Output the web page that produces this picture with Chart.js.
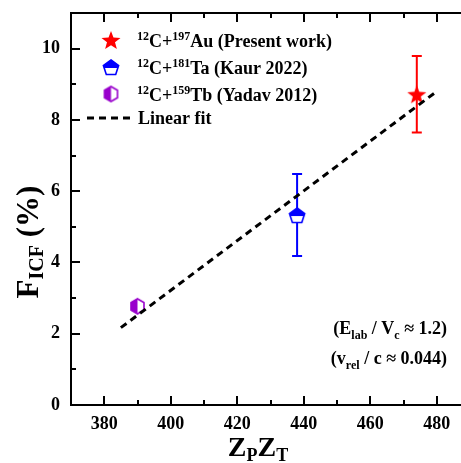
<!DOCTYPE html>
<html>
<head>
<meta charset="utf-8">
<script src="https://cdn.jsdelivr.net/npm/chart.js@4/dist/chart.umd.min.js"></script>
<style>
  html, body { margin: 0; padding: 0; background: #fff; overflow: hidden; }
  #wrap { width: 461px; height: 463px; overflow: hidden; position: relative; }
  #chart { position: absolute; left: 0; top: 0; }
</style>
</head>
<body>
<div id="wrap"><canvas id="chart" width="480" height="463"></canvas></div>
<script>
  'use strict';

  // ---- data ----
  const auX = [474], auY = [8.72], auErr = [1.07];
  const taX = [438], taY = [5.33], taErr = [1.15];
  const tbX = [390], tbY = [2.77], tbErr = [0.08];
  const fitX = [385, 480];
  const fitY = [2.17, 8.80];

  const xTicks = [380, 400, 420, 440, 460, 480];
  const xMinor = [390, 410, 430, 450, 470];
  const yTicks = [0, 2, 4, 6, 8, 10];
  const yMinor = [1, 3, 5, 7, 9];

  const SERIF = '"Liberation Serif", "Times New Roman", serif';
  const RED = '#ff0000', BLUE = '#0000ff', PURPLE = '#9900cc';

  // ---- marker images ----
  function makeCanvas(w, h) {
    const c = document.createElement('canvas');
    c.width = w; c.height = h;
    return c;
  }

  function starMarker(r, color) {
    const s = Math.ceil(r * 2 + 4), c = makeCanvas(s, s), g = c.getContext('2d');
    const cx = s / 2, cy = s / 2 + 1;
    g.beginPath();
    for (let i = 0; i < 10; i++) {
      const rad = i % 2 === 0 ? r : r * 0.42;
      const a = -Math.PI / 2 + i * Math.PI / 5;
      const px = cx + rad * Math.cos(a), py = cy + rad * Math.sin(a);
      i === 0 ? g.moveTo(px, py) : g.lineTo(px, py);
    }
    g.closePath();
    g.fillStyle = color;
    g.fill();
    return c;
  }

  function polyPath(g, cx, cy, r, n, rot) {
    g.beginPath();
    for (let i = 0; i < n; i++) {
      const a = rot + i * 2 * Math.PI / n;
      const px = cx + r * Math.cos(a), py = cy + r * Math.sin(a);
      i === 0 ? g.moveTo(px, py) : g.lineTo(px, py);
    }
    g.closePath();
  }

  // pentagon, top half filled
  function pentMarker(r, color) {
    const s = Math.ceil(r * 2 + 4), c = makeCanvas(s, s), g = c.getContext('2d');
    const cx = s / 2, cy = s / 2 + 1;
    polyPath(g, cx, cy, r, 5, -Math.PI / 2);
    g.fillStyle = '#fff';
    g.fill();
    g.save();
    g.clip();
    g.fillStyle = color;
    g.fillRect(0, 0, s, cy);
    g.restore();
    polyPath(g, cx, cy, r, 5, -Math.PI / 2);
    g.lineWidth = 1.6;
    g.strokeStyle = color;
    g.stroke();
    return c;
  }

  // hexagon, left half filled
  function hexMarker(r, color) {
    const s = Math.ceil(r * 2 + 4), c = makeCanvas(s, s), g = c.getContext('2d');
    const cx = s / 2, cy = s / 2;
    polyPath(g, cx, cy, r, 6, -Math.PI / 2);
    g.fillStyle = '#fff';
    g.fill();
    g.save();
    g.clip();
    g.fillStyle = color;
    g.fillRect(0, 0, cx, s);
    g.restore();
    polyPath(g, cx, cy, r, 6, -Math.PI / 2);
    g.lineWidth = 1.6;
    g.strokeStyle = color;
    g.stroke();
    return c;
  }

  const starImg = starMarker(10, RED);
  const pentImg = pentMarker(8, BLUE);
  const hexImg = hexMarker(7.5, PURPLE);

  // ---- rich text helper (super/subscripts) ----
  function richWidth(ctx, parts) {
    let w = 0;
    for (const p of parts) {
      ctx.font = 'bold ' + p.size + 'px ' + SERIF;
      w += ctx.measureText(p.t).width;
    }
    return w;
  }

  function drawRich(ctx, parts, x, y, align) {
    let cx = align === 'right' ? x - richWidth(ctx, parts) :
             align === 'center' ? x - richWidth(ctx, parts) / 2 : x;
    ctx.textBaseline = 'alphabetic';
    ctx.textAlign = 'left';
    ctx.fillStyle = '#000';
    for (const p of parts) {
      ctx.font = 'bold ' + p.size + 'px ' + SERIF;
      ctx.fillText(p.t, cx, y + (p.dy || 0));
      cx += ctx.measureText(p.t).width;
    }
  }

  const sup = t => ({ t, size: 12, dy: -7 });
  const reg = t => ({ t, size: 18 });

  const legendRows = [
    { img: starImg, parts: [sup('12'), reg('C+'), sup('197'), reg('Au (Present work)')] },
    { img: pentImg, parts: [sup('12'), reg('C+'), sup('181'), reg('Ta (Kaur 2022)')] },
    { img: hexImg, parts: [sup('12'), reg('C+'), sup('159'), reg('Tb (Yadav 2012)')] },
  ];

  const errorSets = [
    { x: auX, y: auY, e: auErr, color: RED },
    { x: taX, y: taY, e: taErr, color: BLUE },
    { x: tbX, y: tbY, e: tbErr, color: PURPLE },
  ];

  // drop the automatic label padding so the plot box sits where we want it
  const noPad = s => {
    s.paddingTop = 0; s.paddingBottom = 0; s.paddingLeft = 0; s.paddingRight = 0;
  };

  const decorPlugin = {
    id: 'decor',
    beforeDatasetsDraw(chart) {
      const ctx = chart.ctx, xs = chart.scales.x, ys = chart.scales.y;
      ctx.save();
      for (const s of errorSets) {
        ctx.strokeStyle = s.color;
        ctx.lineWidth = 2;
        s.x.forEach((xv, i) => {
          const px = xs.getPixelForValue(xv);
          const top = ys.getPixelForValue(s.y[i] + s.e[i]);
          const bot = ys.getPixelForValue(s.y[i] - s.e[i]);
          ctx.beginPath();
          ctx.moveTo(px, top); ctx.lineTo(px, bot);
          ctx.moveTo(px - 5, top); ctx.lineTo(px + 5, top);
          ctx.moveTo(px - 5, bot); ctx.lineTo(px + 5, bot);
          ctx.stroke();
        });
      }
      ctx.restore();
    },
    afterDraw(chart) {
      const ctx = chart.ctx, a = chart.chartArea, xs = chart.scales.x, ys = chart.scales.y;
      ctx.save();
      // frame: left, top and bottom (right side lies past the page edge)
      ctx.strokeStyle = '#000';
      ctx.lineWidth = 2;
      ctx.beginPath();
      ctx.moveTo(a.right, a.top); ctx.lineTo(a.left, a.top);
      ctx.lineTo(a.left, a.bottom); ctx.lineTo(a.right, a.bottom);
      ctx.stroke();

      // inward ticks on all four sides
      ctx.lineWidth = 2;
      const tick = (vals, len) => {
        ctx.beginPath();
        for (const v of vals.x) {
          const px = Math.round(xs.getPixelForValue(v));
          ctx.moveTo(px, a.bottom); ctx.lineTo(px, a.bottom - len);
          ctx.moveTo(px, a.top); ctx.lineTo(px, a.top + len);
        }
        for (const v of vals.y) {
          const py = Math.round(ys.getPixelForValue(v));
          ctx.moveTo(a.left, py); ctx.lineTo(a.left + len, py);
          ctx.moveTo(a.right, py); ctx.lineTo(a.right - len, py);
        }
        ctx.stroke();
      };
      tick({ x: xTicks, y: yTicks }, 9);
      tick({ x: xMinor, y: yMinor }, 5);

      // legend
      legendRows.forEach((row, i) => {
        const cy = 40 + i * 27;
        ctx.drawImage(row.img, 111 - row.img.width / 2, cy - row.img.height / 2);
        drawRich(ctx, row.parts, 137, cy + 7);
      });
      ctx.strokeStyle = '#000';
      ctx.lineWidth = 3;
      ctx.setLineDash([7, 5]);
      ctx.beginPath();
      ctx.moveTo(87, 118); ctx.lineTo(131, 118);
      ctx.stroke();
      ctx.setLineDash([]);
      drawRich(ctx, [reg('Linear fit')], 138, 124);

      // annotations
      drawRich(ctx, [reg('(E'), { t: 'lab', size: 12, dy: 5 }, reg(' / V'), { t: 'c', size: 12, dy: 5 }, reg(' \u2248 1.2)')], 447, 334, 'right');
      drawRich(ctx, [reg('(v'), { t: 'rel', size: 12, dy: 5 }, reg(' / c \u2248 0.044)')], 447, 364, 'right');

      // x title
      drawRich(ctx, [{ t: 'Z', size: 28 }, { t: 'P', size: 18, dy: 5 }, { t: 'Z', size: 28 }, { t: 'T', size: 18, dy: 5 }], 258, 456, 'center');

      // y title, rotated
      ctx.translate(38, 242);
      ctx.rotate(-Math.PI / 2);
      drawRich(ctx, [{ t: 'F', size: 31 }, { t: 'ICF', size: 20, dy: 5 }, { t: ' (%)', size: 31 }], 0, 0, 'center');
      ctx.restore();
    },
  };

  const pt = (xArr, yArr) => xArr.map((x, i) => ({ x, y: yArr[i] }));

  new Chart(document.getElementById('chart').getContext('2d'), {
    type: 'scatter',
    data: {
      datasets: [
        {
          type: 'line',
          label: 'Linear fit',
          data: pt(fitX, fitY),
          borderColor: '#000',
          borderWidth: 3,
          borderDash: [7, 5],
          pointRadius: 0,
          fill: false,
        },
        { label: 'Au', data: pt(auX, auY), pointStyle: starImg },
        { label: 'Ta', data: pt(taX, taY), pointStyle: pentImg },
        { label: 'Tb', data: pt(tbX, tbY), pointStyle: hexImg },
      ],
    },
    options: {
      responsive: false,
      animation: false,
      layout: { padding: { top: 13, right: 10, left: 0, bottom: 0 } },
      plugins: { legend: { display: false }, tooltip: { enabled: false } },
      scales: {
        x: {
          type: 'linear',
          min: 370,
          max: 490,
          afterBuildTicks: s => { s.ticks = xTicks.map(v => ({ value: v })); },
          afterFit: s => { s.height = 58; noPad(s); },
          grid: { display: false, drawTicks: false },
          border: { display: false },
          ticks: {
            padding: 9,
            color: '#000',
            font: { family: SERIF, size: 18, weight: 'bold' },
          },
        },
        y: {
          type: 'linear',
          min: 0,
          max: 11,
          afterBuildTicks: s => { s.ticks = yTicks.map(v => ({ value: v })); },
          afterFit: s => { s.width = 71; noPad(s); },
          grid: { display: false, drawTicks: false },
          border: { display: false },
          ticks: {
            padding: 11,
            color: '#000',
            font: { family: SERIF, size: 18, weight: 'bold' },
          },
        },
      },
    },
    plugins: [decorPlugin],
  });
</script>
</body>
</html>
